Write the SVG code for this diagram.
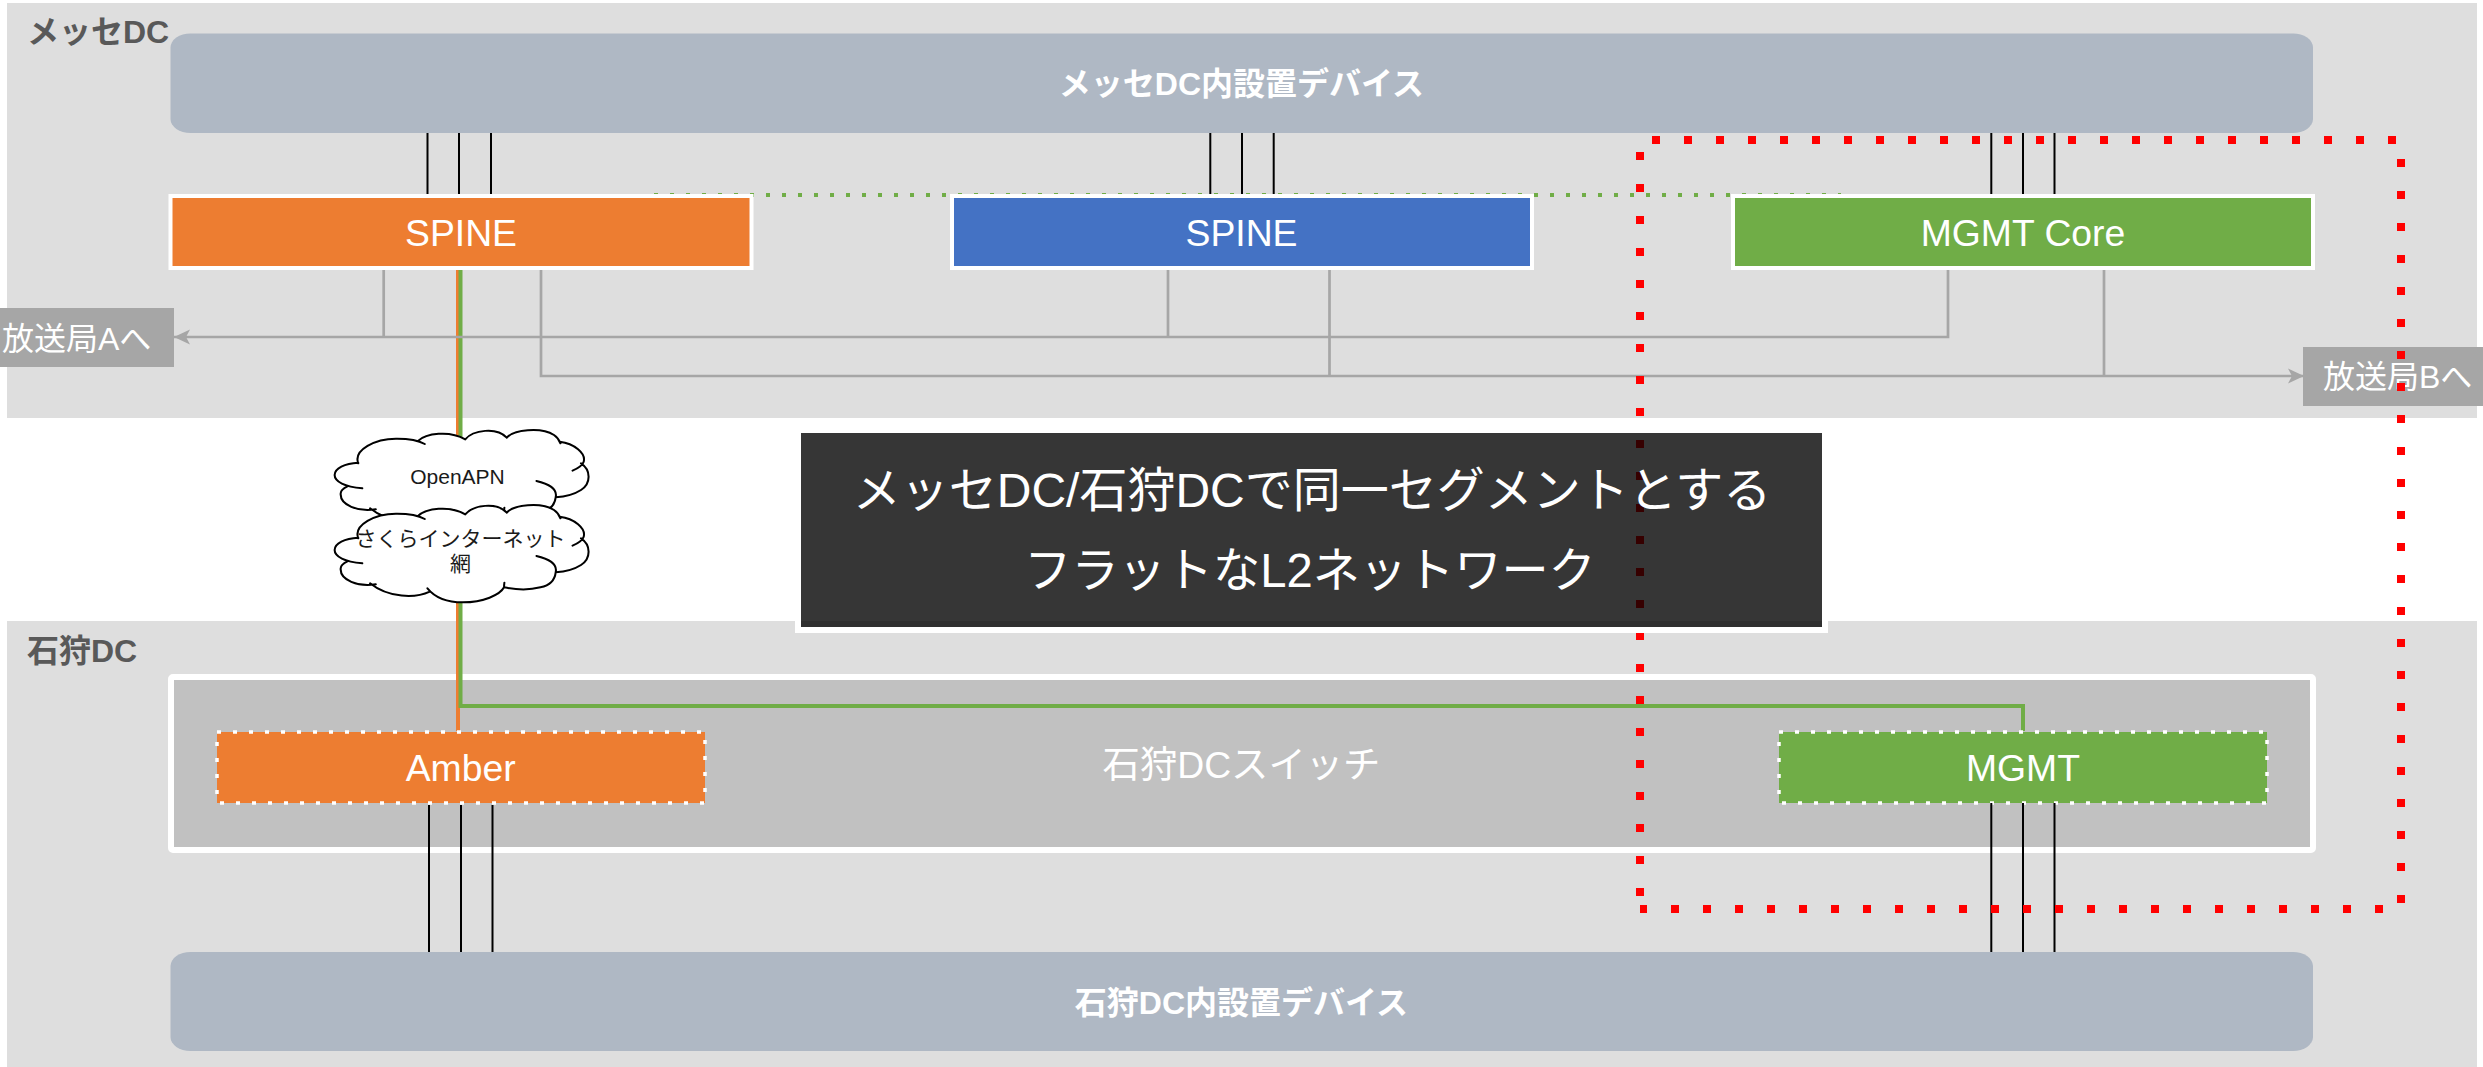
<svg xmlns="http://www.w3.org/2000/svg" xmlns:xlink="http://www.w3.org/1999/xlink" width="2483" height="1067" viewBox="0 0 2483 1067">
<style>
text{font-family:"Liberation Sans","Noto Sans CJK JP",sans-serif;text-anchor:middle;fill:#fff}
.panel{fill:#dedede}
.title{font-size:32px;font-weight:700;fill:#595959;text-anchor:start}
.device{fill:#afb8c4}
.devtext{font-size:32px;font-weight:700}
.node{stroke:#fff;stroke-width:4}
.dot{stroke:#fff;stroke-width:3.5;stroke-dasharray:4 12}
.lbl{font-size:37.330px}
.ext{fill:#a6a6a6}
.extlbl{font-size:32px;text-anchor:start}
.blk{stroke:#000;stroke-width:2;fill:none}
.gry{stroke:#a6a6a6;stroke-width:2.700;fill:none}
.clf{fill:#fff;stroke:none}
.cll{fill:none;stroke:#000;stroke-width:6;stroke-linecap:round}
.cltxt{font-size:21px;fill:#1a1a1a}
</style>
<defs>
<marker id="arr" markerUnits="userSpaceOnUse" markerWidth="18" markerHeight="18" refX="17" refY="9" orient="auto">
<path d="M1,1.500 L17,9 L1,16.500 L5,9 Z" fill="#a6a6a6"/>
</marker>
<g id="cloud">
<path class="clf" d="M100,115 C85,75 150,40 215,41 C240,41 262,44 277,48 C300,25 370,15 417,43 C440,15 510,5 540,38 C560,15 640,5 680,30 C688,36 695,44 697,50 C740,55 775,85 768,110 L760,115 C790,135 790,175 760,195 C740,208 715,215 685,217 C683,235 672,255 640,262 C610,270 570,270 532,262 C520,285 470,307 410,307 C360,307 325,290 308,272 C270,295 190,295 140,256 C100,262 45,240 48,205 C48,195 55,190 68,184 C45,175 30,165 30,150 C30,130 60,115 100,113 Z"/>
<path class="cll" d="M100,115 C85,75 150,40 215,41 C250,41 280,47 297,57 M277,48 C300,25 370,15 417,43 M417,43 C440,15 510,5 540,38 M540,38 C560,15 640,5 680,30 C690,37 696,46 699,55 M697,50 C740,55 775,85 768,110 C765,120 750,130 735,137 M760,115 C790,135 790,175 760,195 C740,208 715,215 685,217 M628,168 C670,178 690,195 685,217 C683,235 672,255 640,262 C610,270 570,270 532,262 M533,248 C532,255 532,258 532,262 C520,285 470,307 410,307 C360,307 325,290 305,265 M312,275 C270,295 190,295 135,250 M152,253 C100,262 45,240 48,205 C48,195 55,190 68,184 M112,190 C60,185 30,170 30,150 C30,130 60,115 100,113"/>
</g>
</defs>

<g id="panel-messe"><rect class="panel" x="7" y="3" width="2470" height="415"/><text class="title" x="27" y="43">メッセDC</text></g>
<g id="panel-ishikari"><rect class="panel" x="7" y="621" width="2470" height="446"/><text class="title" x="27" y="662">石狩DC</text></g>

<g id="device-messe"><rect class="device" x="170.500" y="33.500" width="2142.500" height="99.500" rx="20" ry="14"/><text class="devtext" x="1241.500" y="95">メッセDC内設置デバイス</text></g>
<g id="device-ishikari"><rect class="device" x="170.500" y="952" width="2142.500" height="99" rx="20" ry="14"/><text class="devtext" x="1241.500" y="1014">石狩DC内設置デバイス</text></g>

<g id="switch"><rect x="171" y="677" width="2142" height="173" rx="2" fill="#c1c1c1" stroke="#fff" stroke-width="6"/><text class="lbl" x="1241.500" y="778">石狩DCスイッチ</text></g>

<g id="connectors-back">
<path d="M654,195 H1841" fill="none" stroke="#70ad47" stroke-width="4" stroke-dasharray="4 12"/>
<path class="blk" d="M427.500,133 V194 M459,133 V194 M491,133 V194 M1210.300,133 V194 M1242,133 V194 M1273.700,133 V194 M1991.300,133 V194 M2023,133 V194 M2054.500,133 V194"/>
<path d="M458,270 V731" fill="none" stroke="#ed7d31" stroke-width="4"/>
<path d="M460.500,270 V706 H2023 V731" fill="none" stroke="#70ad47" stroke-width="4"/>
</g>

<g id="external-a"><rect class="ext" x="0" y="308" width="174" height="59"/><text class="extlbl" x="2" y="350">放送局Aへ</text></g>
<g id="external-b"><rect class="ext" x="2303" y="347" width="180" height="59"/><text class="extlbl" x="2323" y="388">放送局Bへ</text></g>

<g id="connectors-gray">
<path class="gry" d="M1948,270 V337 H174" marker-end="url(#arr)"/>
<path class="gry" d="M383.700,270 V337 M1168,270 V337"/>
<path class="gry" d="M541,270 V376 H2304" marker-end="url(#arr)"/>
<path class="gry" d="M1329.500,270 V376 M2104,270 V376"/>
</g>

<g id="spine-a"><rect class="node" x="170.500" y="196" width="581" height="72" fill="#ed7d31"/><text class="lbl" x="461" y="245.500">SPINE</text></g>
<g id="spine-b"><rect class="node" x="952" y="196" width="580" height="72" fill="#4472c4"/><text class="lbl" x="1241.500" y="245.500">SPINE</text></g>
<g id="mgmt-core"><rect class="node" x="1733" y="196" width="580" height="72" fill="#70ad47"/><text class="lbl" x="2023" y="245.500">MGMT Core</text></g>

<g id="amber"><rect x="217" y="732" width="488" height="71" fill="#ed7d31"/><rect class="dot" x="217" y="732" width="488" height="71" fill="none"/><text class="lbl" x="460.700" y="781">Amber</text></g>
<g id="mgmt"><rect x="1779" y="732" width="488" height="71" fill="#70ad47"/><rect class="dot" x="1779" y="732" width="488" height="71" fill="none"/><text class="lbl" x="2023" y="781">MGMT</text></g>

<g id="connectors-front">
<path class="blk" d="M429,805 V952 M461,805 V952 M492.500,805 V952 M1991.300,803 V952 M2023,803 V952 M2054.500,803 V952"/>
</g>

<g id="cloud-openapn"><use href="#cloud" xlink:href="#cloud" transform="translate(324.500,425) scale(.3375,.3333)"/><text class="cltxt" x="457.500" y="484">OpenAPN</text></g>
<g id="cloud-sakura"><use href="#cloud" xlink:href="#cloud" transform="translate(324.500,500) scale(.3375,.3333)"/><text class="cltxt" x="460.500" y="546">さくらインターネット</text><text class="cltxt" x="460.500" y="571">網</text></g>

<g id="highlight"><path d="M1640,909 V140 H2401 V909 H1640" fill="none" stroke="#f00" stroke-width="8" stroke-dasharray="8 24" stroke-dashoffset="19"/></g>

<g id="caption"><rect x="798" y="430" width="1027" height="200" fill="#000" fill-opacity=".79" stroke="#fff" stroke-width="6"/><text x="1312" y="507" font-size="48">メッセDC/石狩DCで同一セグメントとする</text><text x="1310" y="587" font-size="47.200">フラットなL2ネットワーク</text></g>
</svg>
